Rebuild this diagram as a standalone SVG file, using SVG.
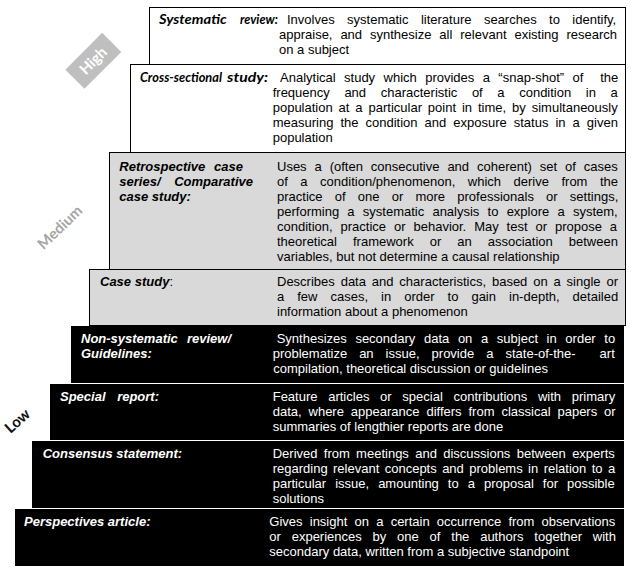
<svg xmlns="http://www.w3.org/2000/svg" width="631" height="573" viewBox="0 0 631 573">
<style>
.d{font-family:"Liberation Sans",Arial,sans-serif;font-size:13px;fill:#000}
.w{fill:#fff}
.lb{font-family:"Liberation Sans",Arial,sans-serif;font-size:13px;font-weight:bold;font-style:italic}
.cal{font-family:Lato,"Liberation Sans",sans-serif;font-size:14px;font-weight:bold;font-style:italic;fill:#000}
.lvl{font-family:Lato,"Liberation Sans",sans-serif;font-size:15px;font-weight:bold}
.bw{fill:#fff;stroke:#000;stroke-width:1}
.bg{fill:#d9d9d9;stroke:#000;stroke-width:1}
.bk{fill:#000}
</style>
<rect width="631" height="573" fill="#fff"/>
<g id="levels">
<g id="level-high" transform="translate(93.3,60.8) rotate(-45)">
<rect x="-26" y="-13.5" width="52" height="27" fill="#bfbfbf"/>
<text class="lvl" x="0" y="5" text-anchor="middle" fill="#fff">High</text>
</g>
<text id="level-medium" class="lvl" transform="translate(60,227.5) rotate(-44)" x="0" y="5" text-anchor="middle" fill="#a6a6a6">Medium</text>
<text id="level-low" class="lvl" transform="translate(17.5,421) rotate(-42)" x="0" y="5" text-anchor="middle" fill="#111">Low</text>
</g>
<g id="systematic-review">
<rect class="bw" x="149.5" y="7.5" width="476" height="57"/>
<text class="cal" x="159" y="24" textLength="67.7" lengthAdjust="spacingAndGlyphs">Systematic</text>
<text class="cal" x="240" y="24" textLength="38" lengthAdjust="spacingAndGlyphs">review:</text>
<text class="d" x="287" y="24" style="word-spacing:8.8px">Involves systematic literature searches to identify,</text>
<text class="d" x="279" y="39" style="word-spacing:4.3px">appraise, and synthesize all relevant existing research</text>
<text class="d" x="279" y="54">on a subject</text>
</g>
<g id="cross-sectional-study">
<rect class="bw" x="130.5" y="64.5" width="495" height="88"/>
<text class="cal" x="140" y="81.5" textLength="82" lengthAdjust="spacingAndGlyphs">Cross-sectional</text>
<text class="cal" x="227" y="81.5" textLength="41" lengthAdjust="spacingAndGlyphs">study:</text>
<text class="d" x="280" y="81.5" xml:space="preserve" style="word-spacing:4.8px;white-space:pre">Analytical study which provides a “snap-shot” of  the</text>
<text class="d" x="272.7" y="96.5" style="word-spacing:11px">frequency and characteristic of a condition in a</text>
<text class="d" x="272.7" y="111.5" style="word-spacing:2.3px">population at a particular point in time, by simultaneously</text>
<text class="d" x="272.7" y="126.5" style="word-spacing:3.4px">measuring the condition and exposure status in a given</text>
<text class="d" x="272.7" y="141.5">population</text>
</g>
<g id="retrospective-case-series">
<rect class="bg" x="109.5" y="152.5" width="516" height="117"/>
<text class="lb" x="119.3" y="170.5" style="word-spacing:5.2px">Retrospective case</text>
<text class="lb" x="119.3" y="185.5" style="word-spacing:10.1px">series/ Comparative</text>
<text class="lb" x="119.3" y="200.5">case study:</text>
<text class="d" x="277" y="170.5" style="word-spacing:4.3px">Uses a (often consecutive and coherent) set of cases</text>
<text class="d" x="277" y="185.5" style="word-spacing:8.9px">of a condition/phenomenon, which derive from the</text>
<text class="d" x="277" y="200.5" style="word-spacing:8.6px">practice of one or more professionals or settings,</text>
<text class="d" x="277" y="215.5" style="word-spacing:4.6px">performing a systematic analysis to explore a system,</text>
<text class="d" x="277" y="230.5" style="word-spacing:4.3px">condition, practice or behavior. May test or propose a</text>
<text class="d" x="277" y="245.5" style="word-spacing:12.4px">theoretical framework or an association between</text>
<text class="d" x="277" y="260.5">variables, but not determine a causal relationship</text>
</g>
<g id="case-study">
<rect class="bg" x="89.5" y="269.5" width="536" height="56"/>
<text class="d" x="100" y="286"><tspan font-weight="bold" font-style="italic">Case study</tspan>:</text>
<text class="d" x="277" y="286" style="word-spacing:2.25px">Describes data and characteristics, based on a single or</text>
<text class="d" x="277" y="301" style="word-spacing:9.4px">a few cases, in order to gain in-depth, detailed</text>
<text class="d" x="277" y="316">information about a phenomenon</text>
</g>
<g id="non-systematic-review">
<rect class="bk" x="71" y="326" width="553" height="57"/>
<text class="lb w" x="81" y="343" style="word-spacing:5.5px">Non-systematic review/</text>
<text class="lb w" x="81" y="358">Guidelines:</text>
<text class="d w" x="276.7" y="343" style="word-spacing:5px">Synthesizes secondary data on a subject in order to</text>
<text class="d w" x="272.7" y="358" xml:space="preserve" style="word-spacing:8.4px;white-space:pre">problematize an issue, provide a state-of-the-  art</text>
<text class="d w" x="273.3" y="373">compilation, theoretical discussion or guidelines</text>
</g>
<g id="special-report">
<rect class="bk" x="50" y="384" width="574" height="56"/>
<text class="lb w" x="60" y="401" style="word-spacing:8px">Special report:</text>
<text class="d w" x="272.7" y="401" style="word-spacing:7.1px">Feature articles or special contributions with primary</text>
<text class="d w" x="272.7" y="416" style="word-spacing:3.3px">data, where appearance differs from classical papers or</text>
<text class="d w" x="272.7" y="431">summaries of lengthier reports are done</text>
</g>
<g id="consensus-statement">
<rect class="bk" x="32" y="441" width="592" height="67"/>
<text class="lb w" x="42.7" y="457.5">Consensus statement:</text>
<text class="d w" x="272.7" y="457.5" style="word-spacing:2.7px">Derived from meetings and discussions between experts</text>
<text class="d w" x="272.7" y="472.5" style="word-spacing:1.8px">regarding relevant concepts and problems in relation to a</text>
<text class="d w" x="272.7" y="487.5" style="word-spacing:5.4px">particular issue, amounting to a proposal for possible</text>
<text class="d w" x="272.7" y="502.5">solutions</text>
</g>
<g id="perspectives-article">
<rect class="bk" x="15" y="509" width="609" height="57"/>
<text class="lb w" x="24" y="525.5">Perspectives article:</text>
<text class="d w" x="269.3" y="525.5" style="word-spacing:3.6px">Gives insight on a certain occurrence from observations</text>
<text class="d w" x="269.3" y="540.5" style="word-spacing:7.2px">or experiences by one of the authors together with</text>
<text class="d w" x="269.3" y="555.5">secondary data, written from a subjective standpoint</text>
</g>
<g id="connectors"/>
</svg>
